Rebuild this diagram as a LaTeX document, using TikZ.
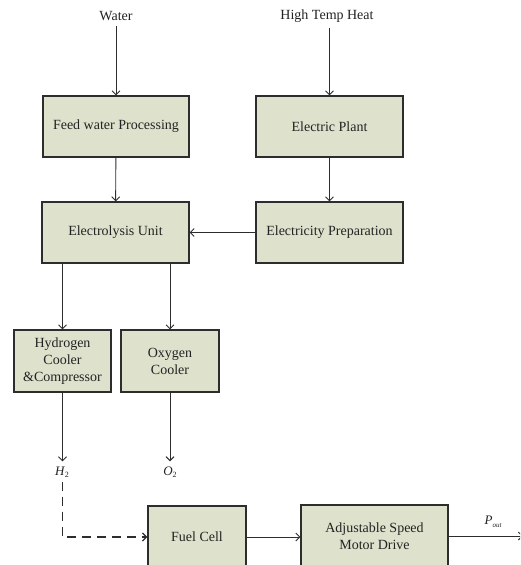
\documentclass[tikz,border=0pt]{standalone}
\usepackage{fontspec}
\setmainfont{Liberation Serif}
\usetikzlibrary{arrows.meta}
\definecolor{boxfill}{RGB}{222,225,204}
\definecolor{linec}{RGB}{45,45,45}
\definecolor{txtc}{RGB}{35,35,35}
\begin{document}
\begin{tikzpicture}[x=1pt,y=-1pt,
  box/.style={draw=linec, line width=1.2pt, fill=boxfill, text=txtc, align=center, inner sep=0pt,
    font=\fontsize{14}{17}\selectfont},
  lbl/.style={text=txtc, inner sep=1pt, font=\fontsize{14}{17}\selectfont},
  arr/.style={draw=linec, line width=0.9pt, -{Straight Barb[length=4pt,width=8pt]}},
  dasharr/.style={arr, line width=1.3pt, dash pattern=on 9pt off 6pt}]
\useasboundingbox (0,0) rectangle (520,565);
\clip (0,0) rectangle (520,565);
\fill[white] (0,0) rectangle (520,565);
% texts at top
\node[lbl] (water) at (116,16) {Water};
\node[lbl] (heat) at (327,16) {High Temp Heat};
% boxes
\node[box, minimum width=146pt, minimum height=61pt] (feed) at (116,126.5) {Feed water Processing};
\node[box, minimum width=147pt, minimum height=61pt] (plant) at (329.5,126.5) {Electric Plant};
\node[box, minimum width=147pt, minimum height=61pt] (elec) at (115.5,232.5) {Electrolysis Unit};
\node[box, minimum width=147pt, minimum height=61pt] (prep) at (329.5,232.5) {Electricity Preparation};
\node[box, minimum width=97pt, minimum height=62pt] (h2c) at (62.5,361) {Hydrogen\\Cooler\\\&Compressor};
\node[box, minimum width=98pt, minimum height=62pt] (o2c) at (170,361) {Oxygen\\Cooler};
\node[box, minimum width=98pt, minimum height=62pt] (fc) at (197,537) {Fuel Cell};
\node[box, minimum width=147pt, minimum height=62pt] (asd) at (374.5,536) {Adjustable Speed\\Motor Drive};
% gas labels
\node[text=txtc, inner sep=0pt, font=\fontsize{13}{15}\selectfont] (h2) at (62,472) {\textit{H}\raisebox{-2.5pt}{\fontsize{8}{9}\selectfont 2}};
\node[text=txtc, inner sep=0pt, font=\fontsize{13}{15}\selectfont] (o2) at (170,472) {\textit{O}\raisebox{-2.5pt}{\fontsize{8}{9}\selectfont 2}};
\node[text=txtc, inner sep=0pt, font=\fontsize{13}{15}\selectfont] (pout) at (493,522) {\textit{P}\raisebox{-3pt}{\fontsize{7}{8}\selectfont\itshape out}};
\coordinate (outend) at (523,536);
% connectors
\draw[arr] (water.south) ++(0,4) -- (feed.north);
\draw[arr] (heat.south -| plant.north) ++(0,4) -- (plant.north);
\draw[arr] (feed) -- (elec);
\draw[arr] (plant) -- (prep);
\draw[arr] (prep.west) -- (elec.east);
\draw[arr] (elec.south -| h2c.north) -- (h2c.north);
\draw[arr] (elec.south -| o2c.north) -- (o2c.north);
\draw[arr] (h2c.south) -- ([yshift=5pt]h2.north -| h2c.south);
\draw[arr] (o2c.south) -- ([yshift=5pt]o2.north -| o2c.south);
\draw[dasharr] ([yshift=-4pt]h2.south -| h2c.south) |- (fc.west);
\draw[arr] (fc.east) -- (fc.east -| asd.west);
\draw[arr] (asd.east |- outend) -- (outend);
\end{tikzpicture}
\end{document}
